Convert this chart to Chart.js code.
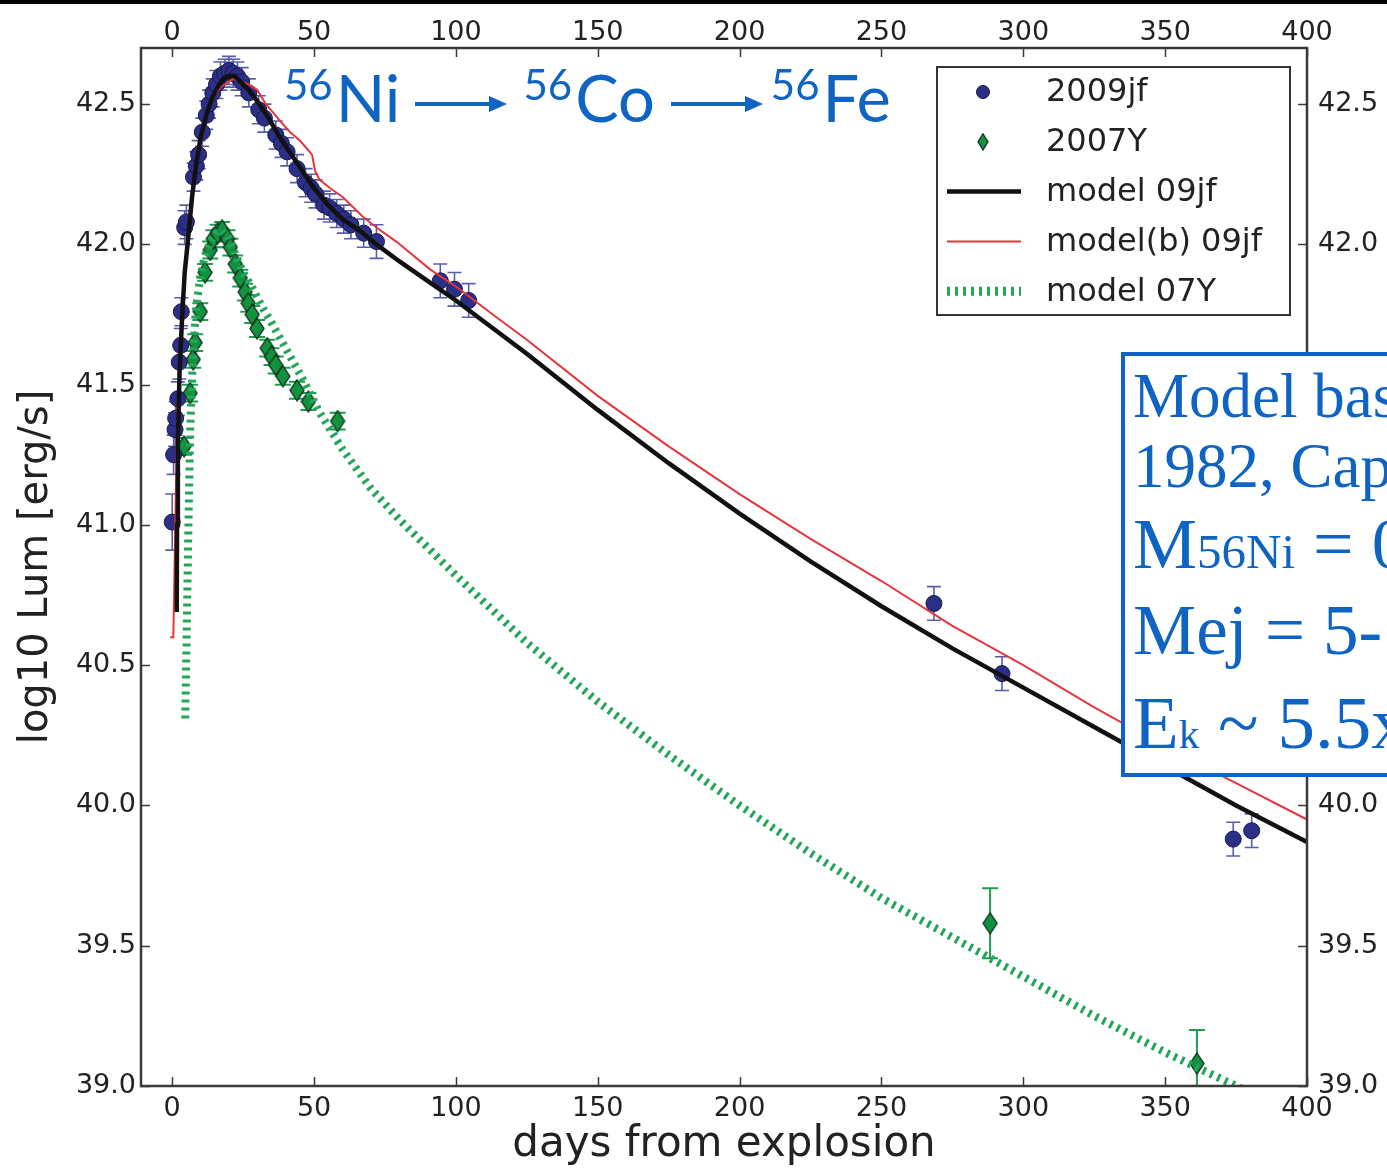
<!DOCTYPE html>
<html>
<head>
<meta charset="utf-8">
<script src="https://cdn.jsdelivr.net/npm/chart.js@4.4.0/dist/chart.umd.min.js"></script>
<style>
  body { margin: 0; width: 1387px; height: 1170px; overflow: hidden; background: #fff; position: relative; }
  #lc { position: absolute; left: 0; top: 0; }
  #topbar { position: absolute; left: 0; top: 0; width: 1387px; height: 4px; background: #000; }
  #decay { position: absolute; left: 284px; top: 52px; font-family: Lato, 'Open Sans', sans-serif; font-size: 65px; line-height: 65px; color: #0f63c3; white-space: nowrap; }
  #decay .sup { font-size: 42px; vertical-align: 22px; margin-right: 3px; }
  #decay .arrow { display: inline-block; vertical-align: 8px; }
  #note { position: absolute; left: 1121px; top: 352px; width: 400px; height: 417px; border: 4px solid #0f63c3; background: #fff; color: #0f63c3; font-family: 'Liberation Serif', 'DejaVu Serif', serif; overflow: hidden; }
  #note div { position: absolute; left: 8px; white-space: nowrap; }
</style>
</head>
<body>
<canvas id="lc" width="1387" height="1170"></canvas>
<div id="topbar"></div>
<div id="decay"><span class="sup">56</span>Ni<span class="arrow" style="margin:0 16px 0 15px"><svg width="92" height="20"><line x1="0" y1="10" x2="76" y2="10" stroke="#0f63c3" stroke-width="4"/><polygon points="74,2 92,10 74,18" fill="#0f63c3"/></svg></span><span class="sup">56</span>Co<span class="arrow" style="margin:0 8px 0 16px"><svg width="92" height="20"><line x1="0" y1="10" x2="76" y2="10" stroke="#0f63c3" stroke-width="4"/><polygon points="74,2 92,10 74,18" fill="#0f63c3"/></svg></span><span class="sup">56</span>Fe</div>
<div id="note">
  <div style="top:9px;font-size:63px;line-height:63px">Model based on</div>
  <div style="top:79px;font-size:63px;line-height:63px">1982, Cappellaro</div>
  <div style="top:152px;font-size:72px;line-height:72px">M<span style="font-size:49px">56Ni</span> = 0</div>
  <div style="top:239px;font-size:71px;line-height:71px">Mej = 5-</div>
  <div style="top:329px;font-size:75px;line-height:75px">E<span style="font-size:41px">k</span> ~ 5.5x</div>
</div>
<script>
// SN 2009jf / SN 2007Y bolometric light curves
const blueDays = [0, 0.5, 1.0, 1.2, 2.0, 2.5, 3.0, 3.2, 4.4, 5.0, 7.5, 8.5, 9.3, 10.6, 12.0, 13.0, 14.3, 15.6, 17.0, 18.5,
  20.0, 21.5, 23.0, 24.5, 27.0, 30.5, 32.5, 36.5, 38.5, 40.5, 44.0, 47.0, 49.0, 50.5, 53.5, 55.5, 58.0, 60.5, 63.0, 67.5,
  72.0, 94.5, 99.5, 104.5, 268.5, 292.5, 374.0, 380.5];
const blueLum = [41.01, 41.25, 41.34, 41.38, 41.45, 41.58, 41.64, 41.76, 42.06, 42.08, 42.24, 42.28, 42.32, 42.40, 42.46, 42.50, 42.54, 42.57, 42.60, 42.61,
  42.62, 42.61, 42.60, 42.58, 42.54, 42.48, 42.45, 42.39, 42.36, 42.33, 42.27, 42.22, 42.20, 42.18, 42.14, 42.13, 42.11, 42.09, 42.07, 42.04,
  42.01, 41.87, 41.84, 41.80, 40.72, 40.47, 39.88, 39.91];
const blueErr = [0.10, 0.07, 0.06, 0.06, 0.06, 0.06, 0.06, 0.05, 0.06, 0.06, 0.05, 0.05, 0.05, 0.05, 0.05, 0.05, 0.05, 0.05, 0.05, 0.05,
  0.05, 0.05, 0.05, 0.05, 0.05, 0.05, 0.05, 0.05, 0.05, 0.05, 0.05, 0.05, 0.05, 0.05, 0.05, 0.05, 0.05, 0.05, 0.05, 0.05,
  0.06, 0.06, 0.06, 0.06, 0.06, 0.06, 0.06, 0.06];

const greenDays = [4.2, 6.3, 7.4, 8.1, 9.9, 11.6, 13.4, 14.5, 16.0, 17.6, 19.5, 20.5, 22.2, 24.0, 25.7, 26.8, 28.2, 29.9,
  33.5, 35.0, 36.5, 39.0, 44.0, 48.0, 58.3, 288.3, 361.2];
const greenLum = [41.28, 41.47, 41.59, 41.65, 41.76, 41.90, 41.98, 42.02, 42.04, 42.05, 42.02, 41.99, 41.93, 41.88, 41.83, 41.79, 41.75, 41.70,
  41.63, 41.60, 41.57, 41.53, 41.48, 41.44, 41.37, 39.58, 39.08];
const greenErr = [0.03, 0.03, 0.03, 0.03, 0.03, 0.03, 0.03, 0.03, 0.03, 0.03, 0.03, 0.03, 0.03, 0.03, 0.03, 0.03, 0.03, 0.03,
  0.03, 0.03, 0.03, 0.03, 0.03, 0.03, 0.03, 0.125, 0.12];

const model09Days = [1.6, 1.7, 2.0, 2.6, 3.4, 4.4, 5.6, 7.0, 8.5, 10, 12, 14, 16, 18, 20, 22, 24, 27, 30, 34, 38, 42, 46, 50,
  55, 60, 66, 72, 80, 90, 100, 125, 150, 175, 200, 225, 250, 275, 300, 325, 350, 375, 400];
const model09 = [40.69, 41.00, 41.30, 41.55, 41.72, 41.90, 42.02, 42.17, 42.29, 42.38, 42.46, 42.52, 42.56, 42.59, 42.60, 42.60, 42.58, 42.55, 42.51, 42.45, 42.38, 42.32, 42.26, 42.20,
  42.14, 42.09, 42.05, 42.00, 41.94, 41.87, 41.80, 41.61, 41.41, 41.22, 41.04, 40.87, 40.71, 40.56, 40.42, 40.28, 40.14, 40.00, 39.87];

const modelBDays = [-0.7, 0.4, 1.0, 1.8, 2.8, 4.0, 5.3, 7.0, 8.8, 11, 14.4, 17, 20, 21.5, 24, 27, 30, 33, 35.6, 38, 41.6, 45, 49.3,
  50.4, 52, 55.7, 60, 67, 72, 79, 91, 100, 113, 125, 150, 175, 200, 225, 250, 275, 300, 325, 350, 375, 400];
const modelB = [40.60, 40.60, 40.95, 41.40, 41.64, 41.85, 41.99, 42.20, 42.33, 42.43, 42.52, 42.56, 42.58, 42.59, 42.58, 42.57, 42.55, 42.50, 42.47, 42.44, 42.40, 42.37, 42.32,
  42.26, 42.23, 42.20, 42.17, 42.10, 42.06, 42.01, 41.91, 41.85, 41.75, 41.66, 41.46, 41.28, 41.11, 40.95, 40.80, 40.64, 40.50, 40.35, 40.21, 40.08, 39.95];

const model07Days = [4.6, 5.0, 5.4, 5.9, 6.4, 7.2, 8.3, 9.8, 11.5, 13.5, 15.5, 17.5, 19.5, 22, 25, 28.5, 31.5, 34.5, 40.5, 46, 52,
  60, 70, 80, 100, 125, 150, 175, 200, 225, 250, 275, 300, 325, 350, 375, 385];
const model07 = [40.31, 40.55, 40.80, 41.10, 41.35, 41.58, 41.76, 41.88, 41.96, 42.01, 42.04, 42.05, 42.03, 41.97, 41.90, 41.84, 41.78, 41.73, 41.62, 41.52, 41.40,
  41.27, 41.13, 41.02, 40.82, 40.58, 40.37, 40.18, 40.00, 39.83, 39.67, 39.53, 39.39, 39.25, 39.12, 39.00, 38.95];

const xTicks = [0, 50, 100, 150, 200, 250, 300, 350, 400];
const yTicks = [39.0, 39.5, 40.0, 40.5, 41.0, 41.5, 42.0, 42.5];

const BLUE = '#2b2f87', BLUE_ERR = '#5a5eaa';
const GREEN = '#12913f', GREEN_ERR = '#1f9e4f';
const BLACK = '#111111', RED = '#e3373c', DOTS = '#24a659';
const FONT = 'DejaVu Sans';
const TXT = '#222';

function pts(xs, ys) {
    return xs.map((x, i) => ({ x: x, y: ys[i] }));
}

function diamondMarker(w, h, fill, edge) {
    const c = document.createElement('canvas');
    c.width = w + 2;
    c.height = h + 2;
    const g = c.getContext('2d');
    g.beginPath();
    g.moveTo(c.width / 2, 1);
    g.lineTo(c.width - 1, c.height / 2);
    g.lineTo(c.width / 2, c.height - 1);
    g.lineTo(1, c.height / 2);
    g.closePath();
    g.fillStyle = fill;
    g.fill();
    g.lineWidth = 1.3;
    g.strokeStyle = edge;
    g.stroke();
    return c;
}

const plotDiamond = diamondMarker(14, 21, GREEN, '#0b2b18');
const legendDiamond = diamondMarker(10, 16, GREEN, '#0b2b18');

// vertical error bars with caps, drawn under the markers
const errorBars = {
    id: 'errorBars',
    beforeDatasetsDraw(chart) {
        const { ctx, chartArea, scales: { x, y } } = chart;
        ctx.save();
        ctx.beginPath();
        ctx.rect(chartArea.left, chartArea.top, chartArea.right - chartArea.left, chartArea.bottom - chartArea.top);
        ctx.clip();
        const sets = [
            [blueDays, blueLum, blueErr, BLUE_ERR, 1.6, 7],
            [greenDays, greenLum, greenErr, GREEN_ERR, 2, 8]
        ];
        sets.forEach(([xs, ys, es, color, lw, cap]) => {
            ctx.strokeStyle = color;
            ctx.lineWidth = lw;
            xs.forEach((d, i) => {
                const px = x.getPixelForValue(d);
                const top = y.getPixelForValue(ys[i] + es[i]);
                const bot = y.getPixelForValue(ys[i] - es[i]);
                ctx.beginPath();
                ctx.moveTo(px, top); ctx.lineTo(px, bot);
                ctx.moveTo(px - cap, top); ctx.lineTo(px + cap, top);
                ctx.moveTo(px - cap, bot); ctx.lineTo(px + cap, bot);
                ctx.stroke();
            });
        });
        ctx.restore();
    }
};

// frame, inward ticks and the boxed legend
const frameAndLegend = {
    id: 'frameAndLegend',
    afterDraw(chart) {
        const { ctx, chartArea: a, scales: { x, y } } = chart;
        ctx.save();
        ctx.strokeStyle = '#3a3a3a';
        ctx.lineWidth = 1.5;
        const tl = 9;
        ctx.beginPath();
        xTicks.forEach(v => {
            const px = Math.round(x.getPixelForValue(v)) + 0.5;
            ctx.moveTo(px, a.bottom); ctx.lineTo(px, a.bottom - tl);
            ctx.moveTo(px, a.top); ctx.lineTo(px, a.top + tl);
        });
        yTicks.forEach(v => {
            const py = Math.round(y.getPixelForValue(v)) + 0.5;
            ctx.moveTo(a.left, py); ctx.lineTo(a.left + tl, py);
            ctx.moveTo(a.right, py); ctx.lineTo(a.right - tl, py);
        });
        ctx.stroke();
        ctx.lineWidth = 2.5;
        ctx.strokeRect(a.left, a.top, a.right - a.left, a.bottom - a.top);

        // legend box
        const lx = 937, ly = 67, lw = 353, lh = 248;
        ctx.fillStyle = '#fff';
        ctx.fillRect(lx, ly, lw, lh);
        ctx.lineWidth = 2;
        ctx.strokeStyle = '#333';
        ctx.strokeRect(lx, ly, lw, lh);
        const rows = chart.data.datasets.map(ds => ds.label);
        const order = ['2009jf', '2007Y', 'model 09jf', 'model(b) 09jf', 'model 07Y'];
        order.forEach((label, i) => {
            const cy = 92 + i * 49.8;
            const ds = chart.data.datasets[rows.indexOf(label)];
            if (label === '2009jf') {
                ctx.beginPath();
                ctx.arc(983, cy, 6.5, 0, Math.PI * 2);
                ctx.fillStyle = BLUE;
                ctx.fill();
                ctx.lineWidth = 1;
                ctx.strokeStyle = '#1a1a40';
                ctx.stroke();
            } else if (label === '2007Y') {
                ctx.drawImage(legendDiamond, 983 - legendDiamond.width / 2, cy - legendDiamond.height / 2);
            } else {
                ctx.beginPath();
                ctx.setLineDash(ds.borderDash || []);
                ctx.lineCap = 'butt';
                ctx.strokeStyle = ds.borderColor;
                ctx.lineWidth = ds.borderWidth + (label === 'model 07Y' ? 1 : 0);
                ctx.moveTo(947, cy); ctx.lineTo(1021, cy);
                ctx.stroke();
                ctx.setLineDash([]);
            }
            ctx.fillStyle = TXT;
            ctx.font = '32px ' + FONT;
            ctx.textBaseline = 'middle';
            ctx.textAlign = 'left';
            ctx.fillText(label, 1046, cy + 1);
        });
        ctx.restore();
    }
};

const tickFont = { family: FONT, size: 27 };

const ctx = document.getElementById('lc').getContext('2d');
const lcChart = new Chart(ctx, {
    type: 'scatter',
    data: {
        datasets: [
            {
                label: 'model 09jf', data: pts(model09Days, model09), showLine: true, pointRadius: 0,
                borderColor: BLACK, borderWidth: 4.5, order: 0, clip: 0
            },
            {
                label: 'model(b) 09jf', data: pts(modelBDays, modelB), showLine: true, pointRadius: 0,
                borderColor: RED, borderWidth: 2, order: 0, clip: 0
            },
            {
                label: 'model 07Y', data: pts(model07Days, model07), showLine: true, pointRadius: 0,
                borderColor: DOTS, borderWidth: 8, borderDash: [3, 5], borderCapStyle: 'butt', order: 0, clip: 0
            },
            {
                label: '2009jf', data: pts(blueDays, blueLum), pointRadius: 8,
                backgroundColor: BLUE, borderColor: '#1a1a40', borderWidth: 1, order: 1
            },
            {
                label: '2007Y', data: pts(greenDays, greenLum), pointStyle: plotDiamond,
                backgroundColor: GREEN, borderColor: '#0b2b18', order: 1
            }
        ]
    },
    options: {
        responsive: false,
        animation: false,
        layout: { padding: 0 },
        plugins: { legend: { display: false }, tooltip: { enabled: false } },
        scales: {
            x: {
                type: 'linear', position: 'bottom', min: -11, max: 400,
                afterBuildTicks: s => { s.ticks = xTicks.map(v => ({ value: v })); },
                afterFit: s => { s.height = 84; },
                grid: { display: false, drawTicks: false },
                border: { display: false },
                ticks: { font: tickFont, color: TXT, padding: 7, maxRotation: 0, autoSkip: false, callback: v => v.toFixed(0) },
                title: { display: true, text: 'days from explosion', color: TXT, font: { family: FONT, size: 42 }, padding: { top: 0, bottom: 0 } }
            },
            x2: {
                type: 'linear', axis: 'x', position: 'top', min: -11, max: 400,
                afterBuildTicks: s => { s.ticks = xTicks.map(v => ({ value: v })); },
                afterFit: s => { s.height = 48; },
                grid: { display: false, drawTicks: false },
                border: { display: false },
                ticks: { font: tickFont, color: TXT, padding: -1, maxRotation: 0, autoSkip: false, callback: v => v.toFixed(0) }
            },
            y: {
                type: 'linear', position: 'left', min: 39.0, max: 42.7,
                afterBuildTicks: s => { s.ticks = yTicks.map(v => ({ value: v })); },
                afterFit: s => { s.width = 141; },
                grid: { display: false, drawTicks: false },
                border: { display: false },
                ticks: { font: tickFont, color: TXT, padding: 5, autoSkip: false, callback: v => v.toFixed(1) },
                title: { display: true, text: 'log10 Lum [erg/s]', color: TXT, font: { family: FONT, size: 40 }, padding: { top: 13, bottom: 0 } }
            },
            y2: {
                type: 'linear', axis: 'y', position: 'right', min: 39.0, max: 42.7,
                afterBuildTicks: s => { s.ticks = yTicks.map(v => ({ value: v })); },
                afterFit: s => { s.width = 80; },
                grid: { display: false, drawTicks: false },
                border: { display: false },
                ticks: { font: tickFont, color: TXT, padding: 11, autoSkip: false, callback: v => v.toFixed(1) }
            }
        }
    },
    plugins: [errorBars, frameAndLegend]
});
</script>
</body>
</html>
